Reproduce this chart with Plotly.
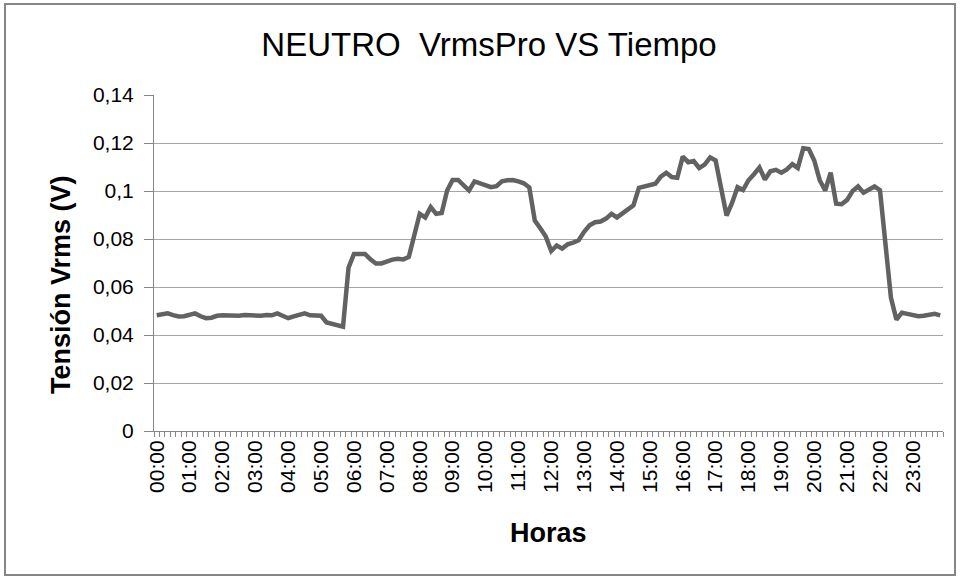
import plotly.graph_objects as go

# 10-minute categories across the day
times = [f"{h:02d}:{m:02d}" for h in range(24) for m in range(0, 60, 10)]
hour_labels = [t if t.endswith(":00") else "" for t in times]

vrms = [
    0.0482, 0.0485, 0.0490, 0.0483, 0.0477, 0.0478, 0.0485, 0.0490, 0.0478, 0.0470,
    0.0472, 0.0480, 0.0482, 0.0480, 0.0478, 0.0480, 0.0483, 0.0482, 0.0480, 0.0480,
    0.0483, 0.0482, 0.0490, 0.0482, 0.0470, 0.0478, 0.0482, 0.0490, 0.0482, 0.0480,
    0.0480, 0.0452, 0.0445, 0.0440, 0.0435, 0.0680, 0.0738, 0.0738, 0.0738, 0.0715,
    0.0698, 0.0698, 0.0708, 0.0714, 0.0718, 0.0715, 0.0725, 0.0820, 0.0905, 0.0890,
    0.0933, 0.0905, 0.0908, 0.1002, 0.1046, 0.1046, 0.1025, 0.1002, 0.1040, 0.1032,
    0.1025, 0.1016, 0.1020, 0.1040, 0.1045, 0.1046, 0.1040, 0.1032, 0.1015, 0.0877,
    0.0845, 0.0810, 0.0750, 0.0773, 0.0760, 0.0778, 0.0785, 0.0795, 0.0830, 0.0857,
    0.0870, 0.0873, 0.0885, 0.0905, 0.0890, 0.0908, 0.0925, 0.0940, 0.1013, 0.1020,
    0.1025, 0.1030, 0.1060, 0.1076, 0.1058, 0.1055, 0.1143, 0.1120, 0.1125, 0.1096,
    0.1110, 0.1140, 0.1127, 0.1000, 0.0898, 0.0950, 0.1016, 0.1004, 0.1045, 0.1070,
    0.1098, 0.1048, 0.1082, 0.1088, 0.1076, 0.1090, 0.1112, 0.1096, 0.1178, 0.1175,
    0.1127, 0.1045, 0.1002, 0.1076, 0.0947, 0.0945, 0.0963, 0.1000, 0.1019, 0.0993,
    0.1005, 0.1019, 0.1003, 0.0780, 0.0555, 0.0464, 0.0493, 0.0488, 0.0482, 0.0478,
    0.0480, 0.0482, 0.0488, 0.0482,
]

y_ticks = [0, 0.02, 0.04, 0.06, 0.08, 0.10, 0.12, 0.14]
y_tick_text = ["0", "0,02", "0,04", "0,06", "0,08", "0,1", "0,12", "0,14"]

FONT = "Liberation Sans, Arial, sans-serif"

fig = go.Figure()
fig.add_trace(go.Scatter(
    x=times, y=vrms, mode="lines",
    line=dict(color="#626262", width=4.5),
    hoverinfo="skip", showlegend=False,
))

fig.update_layout(
    width=961, height=579,
    margin=dict(l=154, r=18, t=95, b=148),
    paper_bgcolor="white", plot_bgcolor="white",
    font=dict(family=FONT, color="black"),
    title=dict(text="NEUTRO  VrmsPro VS Tiempo", x=489/961, xref="container",
               xanchor="center", y=1-44/579, yref="container", yanchor="middle",
               font=dict(size=33, family=FONT, color="black")),
    showlegend=False,
)

fig.update_xaxes(
    type="category", range=[-0.5, len(times) - 0.5],
    tickvals=times, ticktext=hour_labels, tickangle=-90,
    tickson="boundaries", ticks="outside", ticklen=5, tickcolor="#868686",
    tickfont=dict(size=21, family=FONT, color="black"),
    showgrid=False, showline=True, linecolor="#868686", linewidth=1,
    zeroline=False,
)
fig.update_yaxes(
    range=[0, 0.14], tickvals=y_ticks, ticktext=y_tick_text,
    ticks="outside", ticklen=9, tickcolor="#868686",
    tickfont=dict(size=21, family=FONT, color="black"),
    ticklabelstandoff=6,
    showgrid=True, gridcolor="#a6a6a6", gridwidth=1,
    showline=True, linecolor="#868686", linewidth=1, zeroline=False,
)

fig.add_annotation(text="<b>Horas</b>", xref="paper", yref="paper",
                   x=0.5, y=(431-533)/336, showarrow=False,
                   xanchor="center", yanchor="middle",
                   font=dict(size=27, family=FONT, color="black"))
fig.add_annotation(text="<b>Tensión Vrms (V)</b>", xref="paper", yref="paper",
                   x=(61-154)/789, y=(431-285)/336, showarrow=False, textangle=-90,
                   xanchor="center", yanchor="middle",
                   font=dict(size=27, family=FONT, color="black"))

fig.add_shape(type="rect", xref="paper", yref="paper",
              x0=(5-154)/789, x1=(955-154)/789, y0=(431-575)/336, y1=(431-4)/336,
              line=dict(color="#868686", width=2), fillcolor="rgba(0,0,0,0)",
              layer="below")

fig.write_html("out.html", config={"displayModeBar": False},
               post_script="document.body.style.margin='0';")
